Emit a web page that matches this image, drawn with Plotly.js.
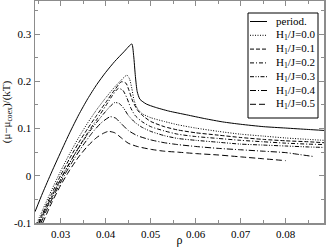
<!DOCTYPE html>
<html><head><meta charset="utf-8">
<script src="https://cdn.plot.ly/plotly-3.0.1.min.js"></script>
<style>html,body{margin:0;padding:0;background:#fff}#c{width:327px;height:247px}</style>
</head><body><div id="c"></div>
<script>
const rho_period = [0.0243,0.026,0.028,0.030,0.032,0.034,0.036,0.038,0.040,0.042,0.044,0.0458,0.0462,0.0466,0.0470,0.0476,0.049,0.051,0.054,0.058,0.062,0.066,0.070,0.075,0.080,0.085,0.0885];
const mu_period  = [-0.076,-0.036,0.008,0.050,0.091,0.129,0.163,0.193,0.219,0.242,0.262,0.279,0.255,0.21,0.178,0.162,0.152,0.145,0.137,0.129,0.121,0.114,0.109,0.104,0.101,0.098,0.096];

const rho_h00 = [0.0247,0.026,0.028,0.030,0.032,0.034,0.036,0.038,0.040,0.042,0.0435,0.0447,0.0453,0.0458,0.0463,0.047,0.048,0.050,0.053,0.056,0.060,0.065,0.070,0.075,0.080,0.085,0.0885];
const mu_h00  = [-0.1,-0.072,-0.030,0.010,0.047,0.081,0.112,0.140,0.165,0.188,0.203,0.213,0.205,0.185,0.160,0.143,0.132,0.123,0.115,0.108,0.101,0.094,0.088,0.084,0.080,0.077,0.075];

const rho_h01 = [0.0249,0.026,0.028,0.030,0.032,0.034,0.036,0.038,0.040,0.042,0.0435,0.0445,0.0452,0.046,0.047,0.048,0.050,0.053,0.056,0.060,0.065,0.070,0.075,0.080,0.085,0.0885];
const mu_h01  = [-0.1,-0.079,-0.038,0.001,0.037,0.070,0.100,0.128,0.155,0.182,0.199,0.196,0.180,0.158,0.140,0.129,0.115,0.104,0.097,0.091,0.086,0.081,0.077,0.074,0.072,0.070];

const rho_h02 = [0.0251,0.026,0.028,0.030,0.032,0.034,0.036,0.038,0.040,0.0415,0.0428,0.0438,0.0447,0.0455,0.0465,0.048,0.050,0.053,0.056,0.060,0.065,0.070,0.075,0.080,0.085,0.0885];
const mu_h02  = [-0.1,-0.084,-0.046,-0.008,0.027,0.060,0.091,0.119,0.148,0.170,0.185,0.181,0.165,0.145,0.128,0.115,0.104,0.095,0.088,0.083,0.079,0.075,0.072,0.069,0.067,0.066];

const rho_h03 = [0.0253,0.027,0.029,0.031,0.033,0.035,0.037,0.039,0.0408,0.042,0.043,0.044,0.045,0.0465,0.048,0.050,0.053,0.056,0.060,0.065,0.070,0.075,0.080,0.085,0.0885];
const mu_h03  = [-0.1,-0.063,-0.025,0.011,0.044,0.074,0.101,0.125,0.145,0.155,0.153,0.143,0.128,0.113,0.103,0.094,0.085,0.079,0.075,0.071,0.067,0.065,0.063,0.061,0.060];

const rho_h04 = [0.0256,0.027,0.029,0.031,0.033,0.035,0.037,0.039,0.041,0.0422,0.0435,0.045,0.047,0.050,0.053,0.056,0.060,0.065,0.070,0.075,0.080,0.083,0.086];
const mu_h04  = [-0.1,-0.070,-0.032,0.004,0.036,0.065,0.091,0.112,0.125,0.122,0.110,0.096,0.085,0.076,0.070,0.066,0.062,0.058,0.055,0.052,0.049,0.045,0.041];

const rho_h05 = [0.026,0.028,0.030,0.032,0.034,0.036,0.038,0.0395,0.0406,0.042,0.0435,0.045,0.047,0.050,0.053,0.056,0.060,0.065,0.070,0.075,0.080];
const mu_h05  = [-0.1,-0.057,-0.020,0.012,0.040,0.063,0.081,0.090,0.094,0.091,0.080,0.069,0.062,0.056,0.052,0.050,0.047,0.044,0.040,0.036,0.032];

const seriesNames = ['period.','H<sub>1</sub>/J=0.0','H<sub>1</sub>/J=0.1','H<sub>1</sub>/J=0.2','H<sub>1</sub>/J=0.3','H<sub>1</sub>/J=0.4','H<sub>1</sub>/J=0.5'];
const xTickVals = [0.03,0.04,0.05,0.06,0.07,0.08];
const xTickText = ['0.03','0.04','0.05','0.06','0.07','0.08'];
const yTickVals = [-0.1,0,0.1,0.2,0.3];
const yTickText = ['-0.1','0','0.1','0.2','0.3'];

const xs = [rho_period,rho_h00,rho_h01,rho_h02,rho_h03,rho_h04,rho_h05];
const ys = [mu_period,mu_h00,mu_h01,mu_h02,mu_h03,mu_h04,mu_h05];
const dashes = ['solid','1px,1.5px','4px,2px','4px,2px,1px,2px','4px,1.5px,1px,1.5px,1px,1.5px','6px,2px,1px,2px','6px,3px'];

const traces = xs.map((x,i)=>({x:x, y:ys[i], type:'scatter', mode:'lines', name:seriesNames[i],
  line:{color:'#000', width:1, dash:dashes[i], shape:'spline', smoothing:0.6}, showlegend:false}));

const L=35, R=3, T=1, B=24, W=327, H=247;
const pw=W-L-R, ph=H-T-B;
const px=v=>(v-L)/pw, py=v=>(H-B-v)/ph;

const shapes=[{type:'rect',xref:'paper',yref:'paper',x0:px(248),x1:px(318),y0:py(118),y1:py(13),line:{color:'#000',width:1},fillcolor:'#fff',layer:'above'}];
const annotations=[];
seriesNames.forEach((n,i)=>{
  const cy = 21.5 + 13.8*i;
  shapes.push({type:'line',xref:'paper',yref:'paper',x0:px(250),x1:px(267),y0:py(cy),y1:py(cy),line:{color:'#000',width:1,dash:dashes[i]},layer:'above'});
  annotations.push({xref:'paper',yref:'paper',x:px(274),y:py(cy),xanchor:'left',yanchor:'middle',text:n,showarrow:false,
    font:{family:'Liberation Serif',size:11,color:'#000'}});
});

const axisCommon = {showgrid:false, zeroline:false, showline:true, linecolor:'#8c8c8c', linewidth:1.5,
  ticks:'inside', ticklen:5, tickcolor:'#8c8c8c', tickwidth:1, mirror:'ticks',
  tickfont:{family:'Liberation Serif',size:11,color:'#000'}};

const layout = {
  width:W, height:H, margin:{l:L,r:R,t:T,b:B,pad:0},
  paper_bgcolor:'#fff', plot_bgcolor:'#fff', showlegend:false,
  xaxis:Object.assign({}, axisCommon, {range:[0.02429,0.0885], tickvals:xTickVals, ticktext:xTickText,
    minor:{tickvals:[0.025,0.035,0.045,0.055,0.065,0.075,0.085], ticks:'inside', ticklen:3, tickcolor:'#8c8c8c'},
    title:{text:'ρ', font:{family:'Liberation Serif',size:12,color:'#000'}, standoff:2}}),
  yaxis:Object.assign({}, axisCommon, {range:[-0.1,0.37], tickvals:yTickVals, ticktext:yTickText,
    minor:{tickvals:[-0.05,0.05,0.15,0.25,0.35], ticks:'inside', ticklen:3, tickcolor:'#8c8c8c'},
    title:{text:'(μ−μ<sub>coex</sub>)/(kT)', font:{family:'Liberation Serif',size:11,color:'#000'}, standoff:4}}),
  shapes:shapes, annotations:annotations
};
Plotly.newPlot('c', traces, layout, {staticPlot:true, displayModeBar:false});
</script></body></html>
